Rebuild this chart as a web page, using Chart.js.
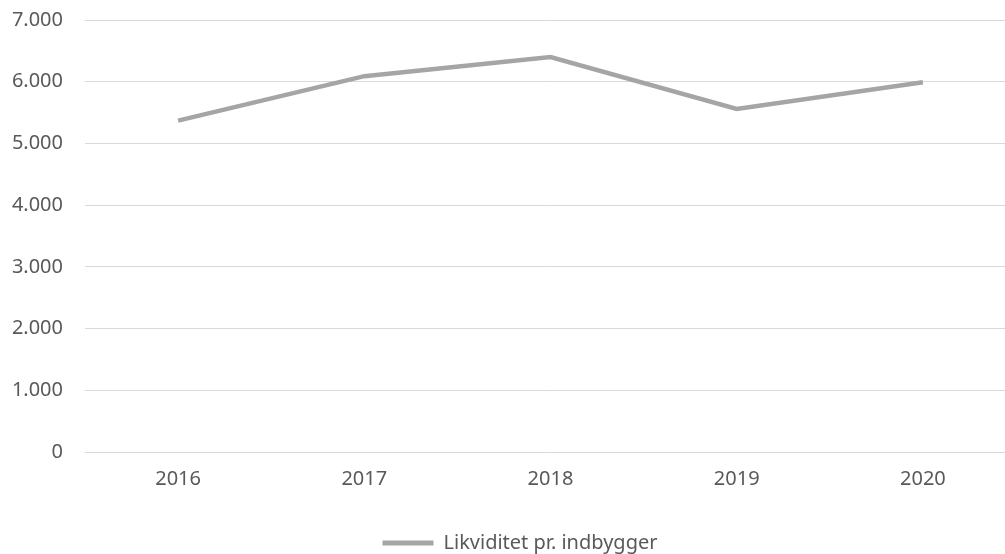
<!DOCTYPE html>
<html>
<head>
<meta charset="utf-8">
<script src="https://cdn.jsdelivr.net/npm/chart.js@4/dist/chart.umd.min.js"></script>
<style>
html,body{margin:0;padding:0;background:#fff;overflow:hidden;}
#wrap{width:1016px;height:554px;}
</style>
</head>
<body>
<div id="wrap"><canvas id="c"></canvas></div>
<script>
const years = ["2016", "2017", "2018", "2019", "2020"];
const likviditet = [5370, 6090, 6400, 5560, 5990];
const seriesName = "Likviditet pr. indbygger";
const yMin = 0, yMax = 7000, yStep = 1000;

const fmt = v => String(v).replace(/\B(?=(\d{3})+(?!\d))/g, ".");
const FONT = { family: 'Noto Sans', size: 20 };

// nudge legend box to match reference placement
const legendNudge = {
  id: 'legendNudge',
  afterLayout(chart) {
    const l = chart.legend;
    if (!l) return;
    l.left += 12; l.right += 12;
    l.top += 9; l.bottom += 9;
  }
};

new Chart(document.getElementById('c'), {
  type: 'line',
  data: {
    labels: years,
    datasets: [{
      label: seriesName,
      data: likviditet,
      borderColor: '#A5A5A5',
      backgroundColor: '#A5A5A5',
      borderWidth: 4.5,
      pointRadius: 0,
      tension: 0,
      fill: false
    }]
  },
  plugins: [legendNudge],
  options: {
    responsive: true,
    maintainAspectRatio: false,
    animation: false,
    layout: { padding: { top: 0, right: 0, left: 0, bottom: 0 } },
    scales: {
      x: {
        offset: true,
        afterFit: s => { s.height = 71; },
        grid: { display: false, drawTicks: false },
        border: { display: false },
        ticks: { color: '#595959', font: FONT, padding: 15 }
      },
      y: {
        min: yMin, max: yMax,
        afterFit: s => { s.width = 85; s.paddingTop = 20; s.paddingBottom = 12; },
        grid: { color: '#D9D9D9', lineWidth: 1, drawTicks: false },
        border: { display: false },
        ticks: { stepSize: yStep, color: '#595959', font: FONT, padding: 22, callback: v => fmt(v) }
      }
    },
    plugins: {
      tooltip: { enabled: false },
      legend: {
        position: 'bottom',
        labels: {
          color: '#595959',
          font: FONT,
          boxWidth: 51,
          boxHeight: 5,
          padding: 1,
          generateLabels: chart => chart.data.datasets.map((d, i) => ({
            text: d.label, fillStyle: d.borderColor, strokeStyle: d.borderColor,
            lineWidth: 0, hidden: false, datasetIndex: i, fontColor: '#595959'
          }))
        }
      }
    }
  }
});
</script>
</body>
</html>
